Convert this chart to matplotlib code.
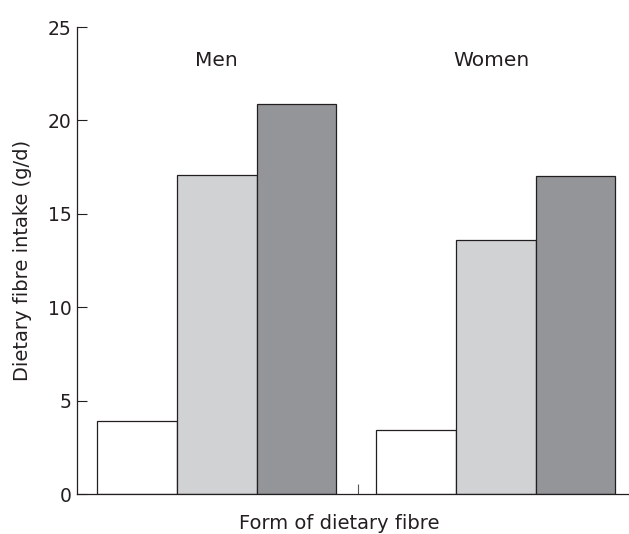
import numpy as np
import matplotlib
matplotlib.use("Agg")
import matplotlib.pyplot as plt

plt.rcParams['font.family'] = ['DejaVu Sans']

# data (g/d)
groups = ["Men", "Women"]
fibre_forms = ["Soluble", "Insoluble", "Total"]
soluble = [3.9, 3.4]
insoluble = [17.1, 13.6]
total = [20.9, 17.05]

colors = ["white", "#d1d2d4", "#939598"]
edge = "#231f20"

fig = plt.figure(figsize=(6.29, 5.34), dpi=100)
ax = fig.add_axes([0.1224, 0.0749, 0.8776, 0.8745])

group_x = np.array([0.0, 3.5])
series = [soluble, insoluble, total]
for i, vals in enumerate(series):
    ax.bar(group_x + i, vals, width=1.0, color=colors[i], edgecolor=edge,
           linewidth=0.9, label=fibre_forms[i], zorder=2)

# group labels above the bars
label_offsets = [1.0, 0.95]
for gx, off, name in zip(group_x, label_offsets, groups):
    ax.text(gx + off, 23.2, name, ha="center", va="center", fontsize=14.5, color=edge)

ax.set_xlim(-0.753, 6.17)
ax.set_ylim(0, 25)
ax.set_yticks([0, 5, 10, 15, 20, 25])
ax.tick_params(axis="y", direction="in", length=7, width=0.8, labelsize=13.5, pad=4, colors=edge)
ax.set_xticks([2.77])
ax.set_xticklabels([""])
ax.tick_params(axis="x", direction="in", length=7, width=0.8, colors="#555555")

for s in ["top", "right"]:
    ax.spines[s].set_visible(False)
for s in ["left", "bottom"]:
    ax.spines[s].set_color(edge)
    ax.spines[s].set_linewidth(0.9)

ax.set_ylabel("Dietary fibre intake (g/d)", fontsize=14, labelpad=11, color=edge)
fig.text(0.54, 0.02, "Form of dietary fibre", ha="center", va="center", fontsize=14, color=edge)

fig.savefig("out.png", dpi=100)
